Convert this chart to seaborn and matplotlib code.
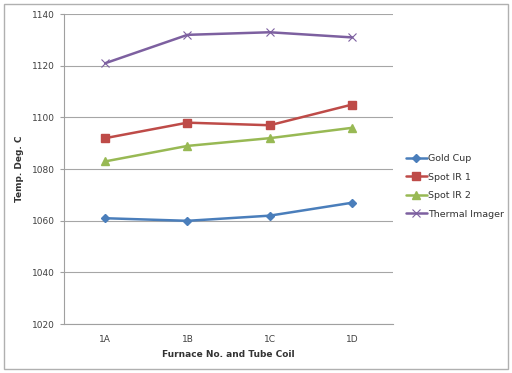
import pandas as pd
import seaborn as sns
import matplotlib.pyplot as plt
from matplotlib.patches import Rectangle

sns.set_style('white')
plt.rcParams['font.family'] = ['DejaVu Sans']

coils = ['1A', '1B', '1C', '1D']
gold_cup = [1061, 1060, 1062, 1067]
spot_ir1 = [1092, 1098, 1097, 1105]
spot_ir2 = [1083, 1089, 1092, 1096]
thermal = [1121, 1132, 1133, 1131]

series = {'Gold Cup': gold_cup, 'Spot IR 1': spot_ir1,
          'Spot IR 2': spot_ir2, 'Thermal Imager': thermal}
rows = []
for name, vals in series.items():
    for i, v in enumerate(vals):
        rows.append({'coil': i, 'series': name, 'temp': v})
df = pd.DataFrame(rows)

colors = {'Gold Cup': '#4A7EBB', 'Spot IR 1': '#BE4B48',
          'Spot IR 2': '#98B954', 'Thermal Imager': '#7D60A0'}
markers = {'Gold Cup': 'D', 'Spot IR 1': 's', 'Spot IR 2': '^', 'Thermal Imager': 'x'}
msizes = {'Gold Cup': 4, 'Spot IR 1': 6, 'Spot IR 2': 6, 'Thermal Imager': 6}

fig = plt.figure(figsize=(5.12, 3.73), dpi=100)
ax = fig.add_axes([0.125, 0.131, 0.643, 0.831])

for name in series:
    sub = df[df.series == name]
    sns.lineplot(data=sub, x='coil', y='temp', ax=ax, color=colors[name],
                 marker=markers[name], markersize=msizes[name], linewidth=1.8,
                 markeredgecolor=colors[name], markeredgewidth=1 if name != 'Thermal Imager' else 0.8,
                 label=name, legend=False)

ax.set_xlim(-0.5, 3.5)
ax.set_ylim(1020, 1140)
ax.set_yticks(range(1020, 1141, 20))
ax.set_xticks(range(4))
ax.set_xticklabels(coils)
ax.set_xticks([-0.5, 0.5, 1.5, 2.5, 3.5], minor=True)
ax.tick_params(axis='x', which='major', length=0, labelsize=6.5, colors='#404040', pad=8)
ax.tick_params(axis='x', which='minor', length=4, direction='inout', color='#a0a0a0')
ax.tick_params(axis='y', length=3, direction='out', color='#a0a0a0', labelsize=6.5,
               colors='#404040', left=True)
ax.yaxis.grid(True, color='#a6a6a6', linewidth=0.8)
for s in ['top', 'right']:
    ax.spines[s].set_visible(False)
for s in ['left', 'bottom']:
    ax.spines[s].set_color('#a0a0a0')
    ax.spines[s].set_linewidth(0.8)

ax.set_xlabel('Furnace No. and Tube Coil', fontsize=6.5, fontweight='bold', color='#333333')
ax.set_ylabel('Temp. Deg. C', fontsize=6.5, fontweight='bold', color='#333333', labelpad=6)

handles, labels = ax.get_legend_handles_labels()
fig.legend(handles, labels, loc='center left', bbox_to_anchor=(0.776, 0.5),
           frameon=False, fontsize=6.8, handlelength=2.2, handletextpad=0.2,
           labelspacing=1.0, labelcolor='#333333')

fig.patches.append(Rectangle((0.008, 0.01), 0.984, 0.98, transform=fig.transFigure,
                             fill=False, edgecolor='#b0b0b0', linewidth=1))

fig.savefig('out.png', dpi=100)
